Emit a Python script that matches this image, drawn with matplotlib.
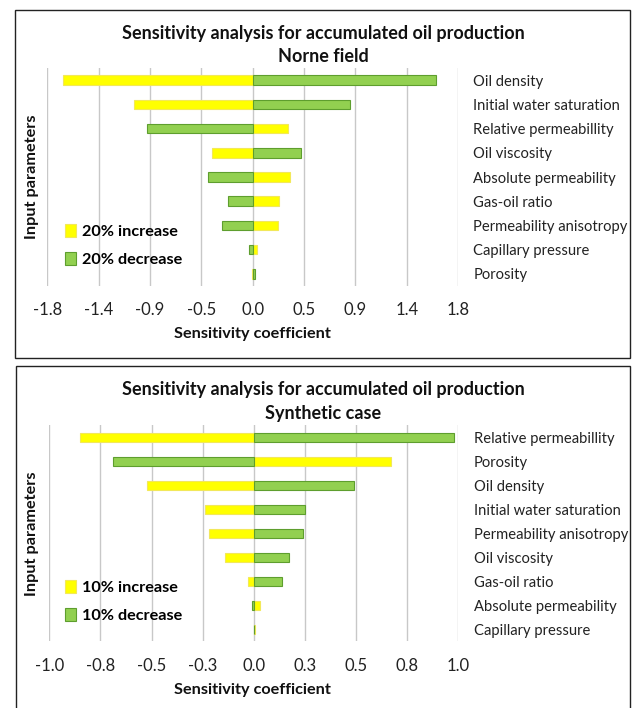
import numpy as np
import matplotlib
matplotlib.use("Agg")
import matplotlib.pyplot as plt
from matplotlib.patches import Rectangle

plt.rcParams['font.family'] = ['Lato', 'DejaVu Sans']

# Norne field (20% change)
norne_params = ["Oil density", "Initial water saturation", "Relative permeabillity",
                "Oil viscosity", "Absolute permeability", "Gas-oil ratio",
                "Permeability anisotropy", "Capillary pressure", "Porosity"]
norne_increase = [-1.66, -1.04, 0.31, -0.36, 0.33, 0.23, 0.22, 0.04, -0.01]
norne_decrease = [1.61, 0.85, -0.93, 0.42, -0.39, -0.22, -0.27, -0.03, 0.02]
norne_ticks = [-1.8, -1.35, -0.9, -0.45, 0.0, 0.45, 0.9, 1.35, 1.8]
norne_ticklabels = ["-1.8", "-1.4", "-0.9", "-0.5", "0.0", "0.5", "0.9", "1.4", "1.8"]

# Synthetic case (10% change)
synth_params = ["Relative permeabillity", "Porosity", "Oil density",
                "Initial water saturation", "Permeability anisotropy", "Oil viscosity",
                "Gas-oil ratio", "Absolute permeability", "Capillary pressure"]
synth_increase = [-0.85, 0.67, -0.52, -0.24, -0.22, -0.14, -0.03, 0.03, 0.006]
synth_decrease = [0.98, -0.69, 0.49, 0.25, 0.24, 0.17, 0.14, -0.01, 0.0]
synth_ticks = [-1.0, -0.75, -0.5, -0.25, 0.0, 0.25, 0.5, 0.75, 1.0]
synth_ticklabels = ["-1.0", "-0.8", "-0.5", "-0.3", "0.0", "0.3", "0.5", "0.8", "1.0"]

YELLOW = "#FFFF00"
YELLOW_EDGE = "#F2E85A"
GREEN = "#92D050"
GREEN_EDGE = "#5E9E2E"

W, H = 635, 708
fig = plt.figure(figsize=(W / 100, H / 100), dpi=100)


def fx(px):
    return px / W


def fy(py):
    return 1 - py / H


def panel(box, ax_rect, params, inc, dec, ticks, ticklabels, pct, titles_y, leg_y, xlab_y):
    # outer frame
    x0, y0, x1, y1 = box
    fig.patches.append(Rectangle((fx(x0), fy(y1)), fx(x1 - x0), (y1 - y0) / H,
                                 transform=fig.transFigure, fill=False,
                                 edgecolor="#222222", linewidth=1.0))
    l, t, r, b = ax_rect
    ax = fig.add_axes([fx(l), fy(b), fx(r - l), (b - t) / H])
    y = np.arange(len(params))
    hb = ax.barh(y, inc, height=0.4, color=YELLOW, edgecolor=YELLOW_EDGE,
                 linewidth=0.8, label=f"{pct}% increase", zorder=3)
    gb = ax.barh(y, dec, height=0.4, color=GREEN, edgecolor=GREEN_EDGE,
                 linewidth=0.8, label=f"{pct}% decrease", zorder=3)
    ax.set_ylim(len(params) - 0.5, -0.5)
    ax.set_xlim(ticks[0], ticks[-1])
    ax.set_xticks(ticks)
    ax.set_xticklabels(ticklabels, fontsize=12, color="#222222")
    ax.tick_params(axis="x", length=0, pad=12)
    ax.yaxis.tick_right()
    ax.set_yticks(y)
    ax.set_yticklabels(params, fontsize=10.6, color="#222222")
    ax.tick_params(axis="y", length=0, pad=11)
    for lab in ax.get_yticklabels():
        lab.set_horizontalalignment("left")
    ax.grid(axis="x", color="#C8C8C8", linewidth=1.0, zorder=0)
    for s in ax.spines.values():
        s.set_visible(False)
    ax.set_facecolor("none")

    fig.text(fx(323), fy(titles_y[0]), "Sensitivity analysis for accumulated oil production",
             ha="center", va="center", fontsize=13, fontweight="bold", color="#111111")
    fig.text(fx(323), fy(titles_y[1]), titles_y[2],
             ha="center", va="center", fontsize=13, fontweight="bold", color="#111111")
    fig.text(fx(252), fy(xlab_y), "Sensitivity coefficient", ha="center", va="center",
             fontsize=11.7, fontweight="bold", color="#111111")
    fig.text(fx(32), fy((t + b) / 2), "Input parameters", ha="center", va="center",
             rotation=90, fontsize=11.7, fontweight="bold", color="#111111")

    ax.legend(handles=[hb, gb], loc="center left", frameon=False,
              bbox_to_anchor=(fx(50), fy(leg_y + 1.5)), bbox_transform=fig.transFigure,
              prop={"size": 11.7, "weight": "bold"}, handlelength=0.7,
              handleheight=0.85, handletextpad=0.35, labelspacing=0.75)
    return ax


panel((15, 9.5, 630, 358), (47.3, 68.2, 458, 285.8), norne_params,
      norne_increase, norne_decrease, norne_ticks, norne_ticklabels, 20,
      (34, 57, "Norne field"), 244, 334)
panel((16, 366, 630, 720), (49.3, 425.3, 458.3, 641.3), synth_params,
      synth_increase, synth_decrease, synth_ticks, synth_ticklabels, 10,
      (390, 414, "Synthetic case"), 600, 690)

fig.savefig("out.png", dpi=100)
